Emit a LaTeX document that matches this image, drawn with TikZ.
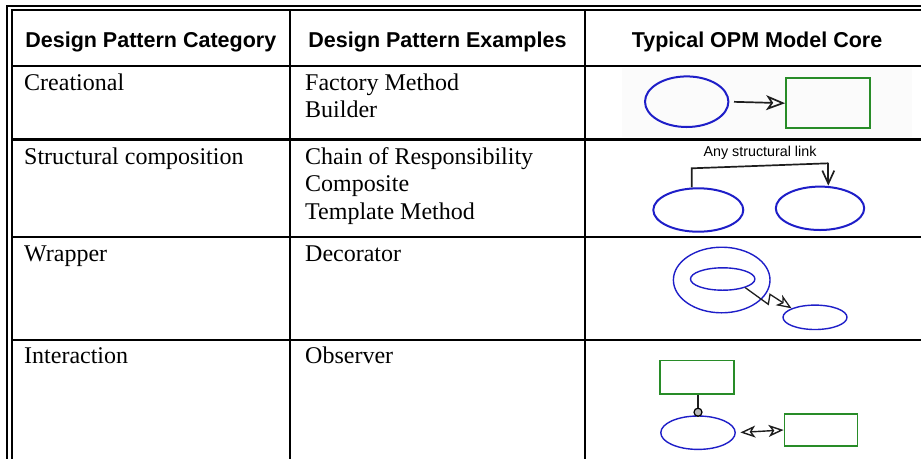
\documentclass[tikz,border=0pt]{standalone}
\usepackage{fontspec}
\setmainfont{Liberation Serif}
\newfontfamily\hdfont{Liberation Sans}
\usetikzlibrary{shapes.geometric,arrows.meta}
\definecolor{opmblue}{RGB}{30,30,200}
\definecolor{opmgreen}{RGB}{40,140,40}
\definecolor{linkgray}{RGB}{30,30,30}
\begin{document}
\begin{tikzpicture}[x=1pt,y=-1pt,
  rule/.style={line width=2.4pt},
  frame/.style={line width=1.8pt},
  head/.style={font=\hdfont\bfseries\fontsize{21.5}{26}\selectfont, anchor=base, inner sep=0pt},
  cell/.style={font=\fontsize{24}{27.5}\selectfont, anchor=base west, inner sep=0pt},
  obj/.style={draw=opmgreen, rectangle, inner sep=0pt, line width=1.8pt},
  proc/.style={draw=opmblue, ellipse, inner sep=0pt, line width=2pt},
  thinproc/.style={draw=opmblue, ellipse, inner sep=0pt, line width=1.4pt},
  link/.style={draw=linkgray, line width=1.7pt},
  openhead/.style={-{Stealth[open, inset=5pt, length=19pt, width=15pt]}},
  smallhead/.tip={Stealth[open, inset=4pt, length=15pt, width=12pt]},
]
\useasboundingbox (0,0) rectangle (921,459);

% table frame: double border on top and left
\draw[frame] (921,5.7) -- (7.3,5.7) -- (7.3,459);
\draw[frame] (921,9.7) -- (11.7,9.7) -- (11.7,459);
% column separators
\draw[rule] (290,9.7) -- (290,459);
\draw[rule] (585,9.7) -- (585,459);
% row separators
\foreach \yy in {66,139.5,237,340}
  \draw[rule] (11.7,\yy) -- (921,\yy);

% header
\node[head] (h1) at (150.8,47.7) {Design Pattern Category};
\node[head] (h2) at (437.5,47.7) {Design Pattern Examples};
\node[head] (h3) at (757,47.7) {Typical OPM Model Core};

% categories
\node[cell] (c1) at (24,90) {Creational};
\node[cell] (c2) at (24,164) {Structural composition};
\node[cell] (c3) at (24,261) {Wrapper};
\node[cell] (c4) at (24,363) {Interaction};

% examples
\node[cell] (e1a) at (305,90) {Factory Method};
\node[cell] (e1b) at (305,117.5) {Builder};
\node[cell] (e2a) at (305,164) {Chain of Responsibility};
\node[cell] (e2b) at (305,191.5) {Composite};
\node[cell] (e2c) at (305,219) {Template Method};
\node[cell] (e3a) at (305,261) {Decorator};
\node[cell] (e4a) at (305,363) {Observer};

% creational core: process yields object
\fill[gray!3] (622,68) rectangle (912,137);
\node[proc, minimum width=83.4pt, minimum height=50.6pt] (p1) at (686.7,101.7) {};
\node[obj, minimum width=84pt, minimum height=49.7pt] (o1) at (828,103.2) {};
\draw[link, openhead, shorten <=4.6pt] (p1.east) -- (o1.west);

% structural core: two things joined by a structural link
\node[proc, minimum width=90pt, minimum height=43.4pt] (s1) at (698.3,210) {};
\node[proc, minimum width=88.4pt, minimum height=43.4pt] (s2) at (820,208.3) {};
\coordinate (k1) at (691.7,168.3);
\coordinate (k2) at (828.3,163.3);
\node[font=\hdfont\fontsize{14.3}{17}\selectfont, inner sep=0pt] (sl) at (760,153) {Any structural link};
\draw[link] (k1 |- s1.north) -- (k1) -- (k2);
\draw[link, -{Straight Barb[length=13pt, width=12pt]}] (k2) -- (k2 |- s2.north);

% wrapper core: nested processes invoking another
\node[thinproc, minimum width=96.6pt, minimum height=65.6pt] (w0) at (721.7,280) {};
\node[thinproc, minimum width=64.4pt, minimum height=22.4pt] (w1) at (722.7,279) {};
\node[thinproc, minimum width=64pt, minimum height=24.4pt] (w2) at (815,317.3) {};
\coordinate (z1) at (768.3,304.3);
\coordinate (z2) at (770,294.3);
\draw[link, line width=1.3pt, -{smallhead}]
  (w1.-21) -- (z1) -- (z2) -- (w2.159);

% interaction core: agent link and bidirectional link
\node[obj, line width=1.5pt, minimum width=74pt, minimum height=33.3pt] (t1) at (697,377.3) {};
\node[thinproc, minimum width=74.4pt, minimum height=33.4pt] (t2) at (698,432.7) {};
\node[obj, line width=1.5pt, minimum width=73.4pt, minimum height=32pt] (t3) at (821,430) {};
\node[circle, draw=black, fill=gray!55, line width=1.2pt, minimum size=8pt, inner sep=0pt] (ag) at (698,412.2) {};
\draw[link, line width=1.4pt] (ag.north |- t1.south) -- (ag.north);
\draw[link, line width=1.4pt, {smallhead}-{smallhead}, shorten <=4.5pt] (t2.east) -- (t3.west);
\end{tikzpicture}
\end{document}
